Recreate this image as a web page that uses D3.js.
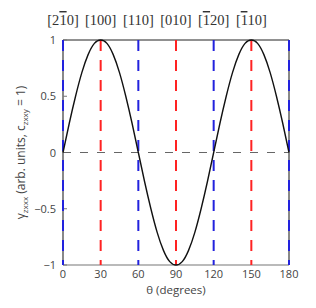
<!DOCTYPE html>
<html><head><meta charset="utf-8">
<script src="https://cdn.jsdelivr.net/npm/d3@7"></script>
<style>body{margin:0;background:#fff}svg{display:block}</style>
</head><body>
<script>
const thetaDeg = [0,5,10,15,20,25,30,35,40,45,50,55,60,65,70,75,80,85,90,95,100,105,110,115,120,125,130,135,140,145,150,155,160,165,170,175,180];
const gammaVals = [0,0.26,0.5,0.71,0.87,0.97,1,0.97,0.87,0.71,0.5,0.26,0,-0.26,-0.5,-0.71,-0.87,-0.97,-1,-0.97,-0.87,-0.71,-0.5,-0.26,0,0.26,0.5,0.71,0.87,0.97,1,0.97,0.87,0.71,0.5,0.26,0];
const redAngles = [30,90,150];
const blueAngles = [0,60,120,180];
const xTicks = [0,30,60,90,120,150,180];
const yTicks = [-1,-0.5,0,0.5,1];
const dirAngles = [0,30,60,90,120,150];
const dirLabels = [["[2","1","0]"],["[100]"],["[110]"],["[010]"],["[","1","20]"],["[","1","10]"]];

const W=316,H=308, L=63, R=289, T=40, B=265;
const svg=d3.select("body").append("svg").attr("width",W).attr("height",H);
const x=d3.scaleLinear().domain([0,180]).range([L,R]);
const y=d3.scaleLinear().domain([-1,1]).range([B,T]);
const sans="Open Sans, sans-serif";

// axes frame
svg.append("line").attr("x1",L).attr("x2",R).attr("y1",T).attr("y2",T).attr("stroke","#222").attr("stroke-width",1);
svg.append("line").attr("x1",L).attr("x2",R).attr("y1",B).attr("y2",B).attr("stroke","#777").attr("stroke-width",1.2);
svg.append("line").attr("x1",L).attr("x2",L).attr("y1",T).attr("y2",B).attr("stroke","#888").attr("stroke-width",2);
svg.append("line").attr("x1",R).attr("x2",R).attr("y1",T).attr("y2",B).attr("stroke","#888").attr("stroke-width",2);

// y ticks (inner)
svg.selectAll(".yt").data(yTicks).join("line").attr("x1",L).attr("x2",L+4)
  .attr("y1",d=>y(d)).attr("y2",d=>y(d)).attr("stroke","#777");
svg.selectAll(".ytl").data(yTicks).join("text").attr("x",L-7).attr("y",d=>y(d)+4)
  .attr("text-anchor","end").attr("font-family",sans).attr("font-size",11).attr("fill","#444")
  .text(d=>d===0?"0":(d<0?"\u2212":"")+Math.abs(d));
svg.selectAll(".xtl").data(xTicks).join("text").attr("x",d=>x(d)).attr("y",B+13)
  .attr("text-anchor","middle").attr("font-family",sans).attr("font-size",11).attr("fill","#444")
  .text(d=>d);

// zero dashed line
svg.append("line").attr("x1",L).attr("x2",R).attr("y1",y(0)).attr("y2",y(0))
  .attr("stroke","#666").attr("stroke-width",1.2).attr("stroke-dasharray","8,9");

// vertical dashed lines
svg.selectAll(".bl").data(blueAngles).join("line").attr("x1",d=>x(d)).attr("x2",d=>x(d))
  .attr("y1",T).attr("y2",B).attr("stroke","#2222dd").attr("stroke-width",2).attr("stroke-dasharray","11,9");
svg.selectAll(".rl").data(redAngles).join("line").attr("x1",d=>x(d)).attr("x2",d=>x(d))
  .attr("y1",T).attr("y2",B).attr("stroke","#ff2222").attr("stroke-width",2).attr("stroke-dasharray","11,9");

// curve
const pts=thetaDeg.map((t,i)=>[t,gammaVals[i]]);
svg.append("path").datum(pts).attr("fill","none").attr("stroke","#111").attr("stroke-width",1.4)
  .attr("d",d3.line().x(d=>x(d[0])).y(d=>y(d[1])).curve(d3.curveNatural));

// direction labels
dirAngles.forEach((a,i)=>{
  const t=svg.append("text").attr("x",x(a)).attr("y",25).attr("text-anchor","middle")
    .attr("font-family","Liberation Serif, serif").attr("font-size",14.5).attr("fill","#333");
  const parts=dirLabels[i];
  if(parts.length===1){t.text(parts[0]);}
  else{
    t.append("tspan").text(parts[0]);
    t.append("tspan").attr("text-decoration","overline").text(parts[1]);
    t.append("tspan").text(parts[2]);
  }
});

// axis titles
svg.append("text").attr("x",(L+R)/2).attr("y",B+29).attr("text-anchor","middle")
  .attr("font-family",sans).attr("font-size",11.5).attr("fill","#444").text("\u03b8 (degrees)");
const yl=svg.append("text").attr("transform",`translate(25,${(T+B)/2}) rotate(-90)`).attr("text-anchor","middle")
  .attr("font-family",sans).attr("font-size",12).attr("fill","#444");
yl.append("tspan").text("\u03b3");
yl.append("tspan").attr("font-size",8).attr("dy",3).text("zxxx");
yl.append("tspan").attr("dy",-3).text(" (arb. units, c");
yl.append("tspan").attr("font-size",8).attr("dy",3).text("zxxy");
yl.append("tspan").attr("dy",-3).text(" = 1)");
</script>
</body></html>
